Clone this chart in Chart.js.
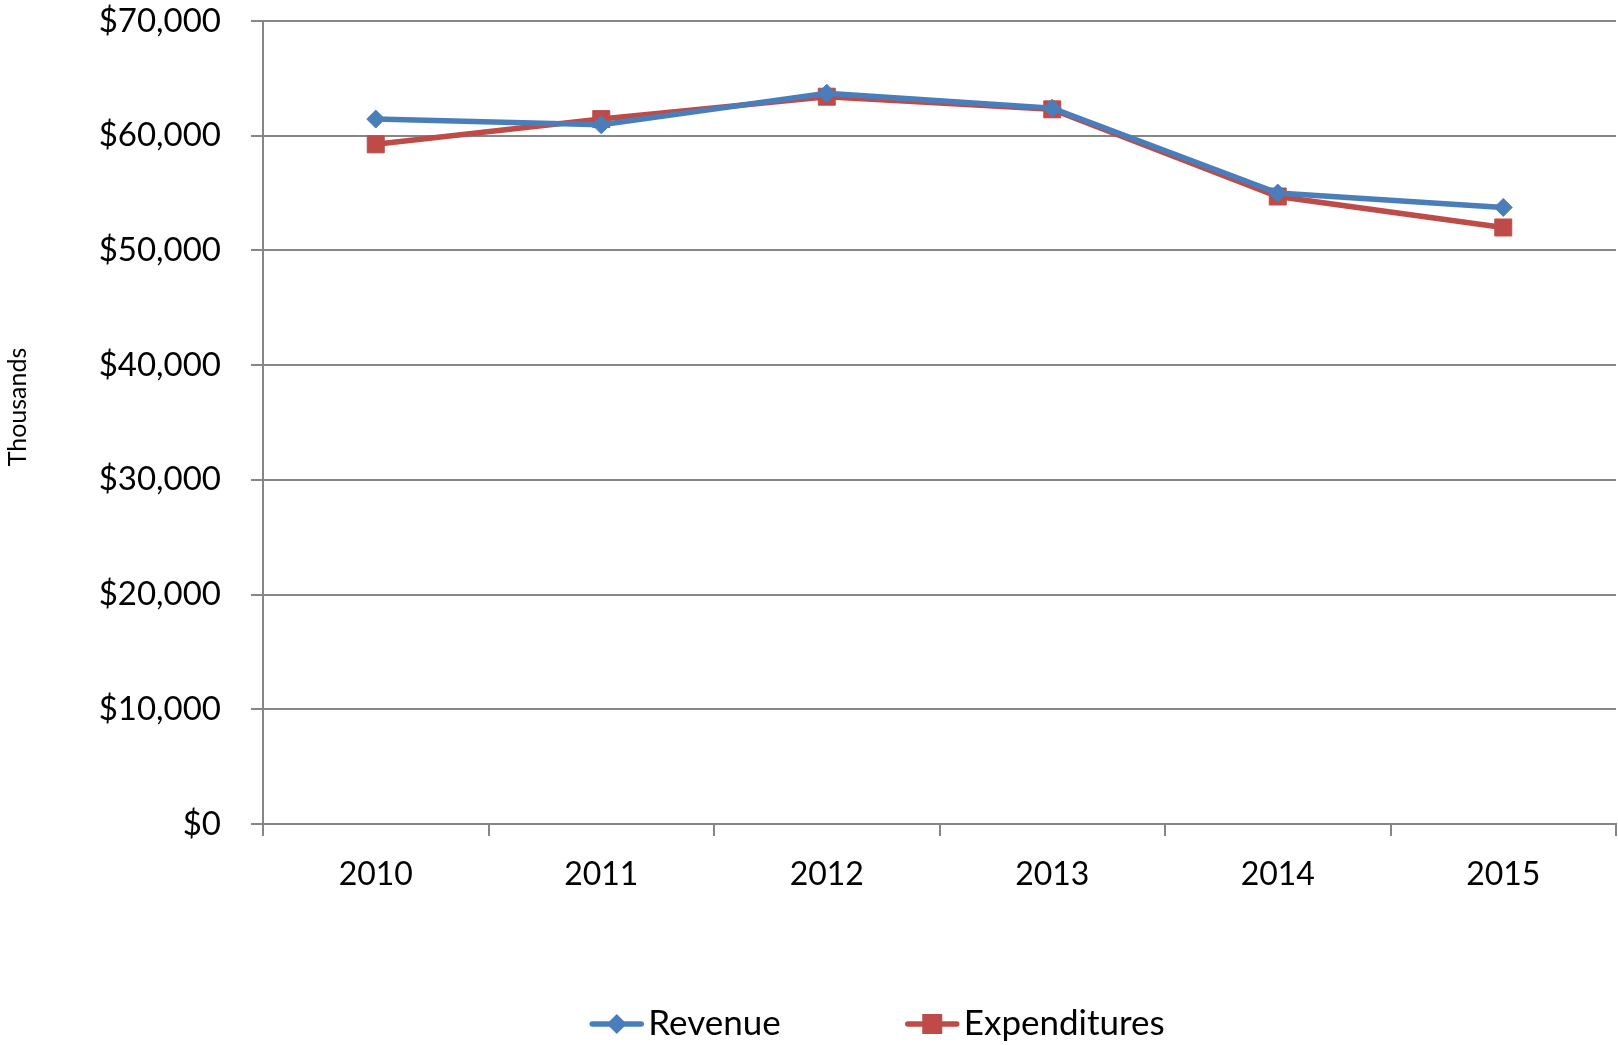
<!DOCTYPE html>
<html>
<head>
<meta charset="utf-8">
<script src="https://cdn.jsdelivr.net/npm/chart.js@4/dist/chart.umd.min.js"></script>
<style>
  html, body { margin: 0; padding: 0; background: #ffffff; }
  #wrap { width: 1618px; height: 1045px; position: relative; }
</style>
</head>
<body>
<div id="wrap"><canvas id="c" width="1618" height="1045"></canvas></div>
<script>
const categories = ['2010', '2011', '2012', '2013', '2014', '2015'];
const revenue = [61450, 60950, 63700, 62400, 55000, 53750];
const expenditures = [59250, 61450, 63400, 62300, 54700, 52000];
const seriesNames = ['Revenue', 'Expenditures'];
const yTicks = [0, 10000, 20000, 30000, 40000, 50000, 60000, 70000];
const yAxisTitle = 'Thousands';

const BLUE = '#4A7EBB';
const RED = '#BE4B48';
const GRID = '#868686';
const FONT = 'Lato, "Open Sans", sans-serif';

const fmt = v => '$' + v.toLocaleString('en-US');

const customLegend = {
  id: 'customLegend',
  afterDraw(chart) {
    const ctx = chart.ctx;
    const items = chart.data.datasets;
    ctx.save();
    // axis title
    ctx.font = '25px ' + FONT;
    ctx.fillStyle = '#000';
    ctx.textAlign = 'center';
    ctx.textBaseline = 'middle';
    ctx.translate(18, 407);
    ctx.rotate(-Math.PI / 2);
    ctx.fillText(yAxisTitle, 0, 0);
    ctx.restore();

    ctx.save();
    ctx.font = '35px ' + FONT;
    ctx.textBaseline = 'middle';
    ctx.textAlign = 'left';
    const iconW = 55, gapIcon = 4, gapItem = 124;
    let total = 0;
    const widths = items.map(d => ctx.measureText(d.label).width);
    widths.forEach((w, i) => { total += iconW + gapIcon + w + (i ? gapItem : 0); });
    let x = 877 - total / 2;
    const y = 1024;
    items.forEach((d, i) => {
      ctx.strokeStyle = d.borderColor;
      ctx.lineWidth = 5.5;
      ctx.lineCap = 'round';
      ctx.beginPath();
      ctx.moveTo(x + 3, y);
      ctx.lineTo(x + iconW - 3, y);
      ctx.stroke();
      const cx = x + iconW / 2;
      ctx.fillStyle = d.pointBackgroundColor;
      ctx.beginPath();
      if (d.pointStyle === 'rectRot') {
        const r = 10;
        ctx.moveTo(cx, y - r); ctx.lineTo(cx + r, y); ctx.lineTo(cx, y + r); ctx.lineTo(cx - r, y);
        ctx.closePath();
      } else {
        const s = 10;
        ctx.rect(cx - s, y - s, 2 * s, 2 * s);
      }
      ctx.fill();
      ctx.fillStyle = '#000';
      ctx.fillText(d.label, x + iconW + gapIcon, y);
      x += iconW + gapIcon + widths[i] + gapItem;
    });
    ctx.restore();
  }
};

new Chart(document.getElementById('c'), {
  type: 'line',
  data: {
    labels: categories,
    datasets: [
      {
        label: seriesNames[0], data: revenue,
        borderColor: BLUE, backgroundColor: BLUE,
        pointBackgroundColor: BLUE, pointBorderColor: BLUE,
        pointStyle: 'rectRot', pointRadius: 9, pointBorderWidth: 1,
        borderWidth: 5.5, tension: 0
      },
      {
        label: seriesNames[1], data: expenditures,
        borderColor: RED, backgroundColor: RED,
        pointBackgroundColor: RED, pointBorderColor: RED,
        pointStyle: 'rect', pointRadius: 12, pointBorderWidth: 1,
        borderWidth: 5.5, tension: 0
      }
    ]
  },
  options: {
    responsive: false,
    animation: false,
    events: [],
    layout: { autoPadding: false, padding: { top: 21, left: 0, right: 2, bottom: 121 } },
    plugins: {
      legend: { display: false },
      tooltip: { enabled: false },
      title: { display: false }
    },
    scales: {
      x: {
        type: 'category',
        offset: true,
        afterFit(s) { s.height = 100; s.paddingLeft = 0; s.paddingRight = 0; },
        border: { display: true, color: GRID, width: 2 },
        grid: {
          offset: true, drawOnChartArea: false, drawTicks: true,
          tickLength: 12, color: GRID, lineWidth: 2
        },
        ticks: { color: '#000', font: { family: FONT, size: 32 }, padding: 19 }
      },
      y: {
        min: 0, max: 70000,
        afterFit(s) { s.width = 263; s.paddingTop = 0; s.paddingBottom = 0; },
        afterBuildTicks(s) { s.ticks = yTicks.map(v => ({ value: v })); },
        border: { display: true, color: GRID, width: 2 },
        grid: { color: GRID, lineWidth: 2, tickLength: 12, drawTicks: true },
        ticks: {
          color: '#000', font: { family: FONT, size: 33 }, padding: 30,
          callback: v => fmt(v)
        },
        title: { display: false }
      }
    }
  },
  plugins: [customLegend]
});
</script>
</body>
</html>
